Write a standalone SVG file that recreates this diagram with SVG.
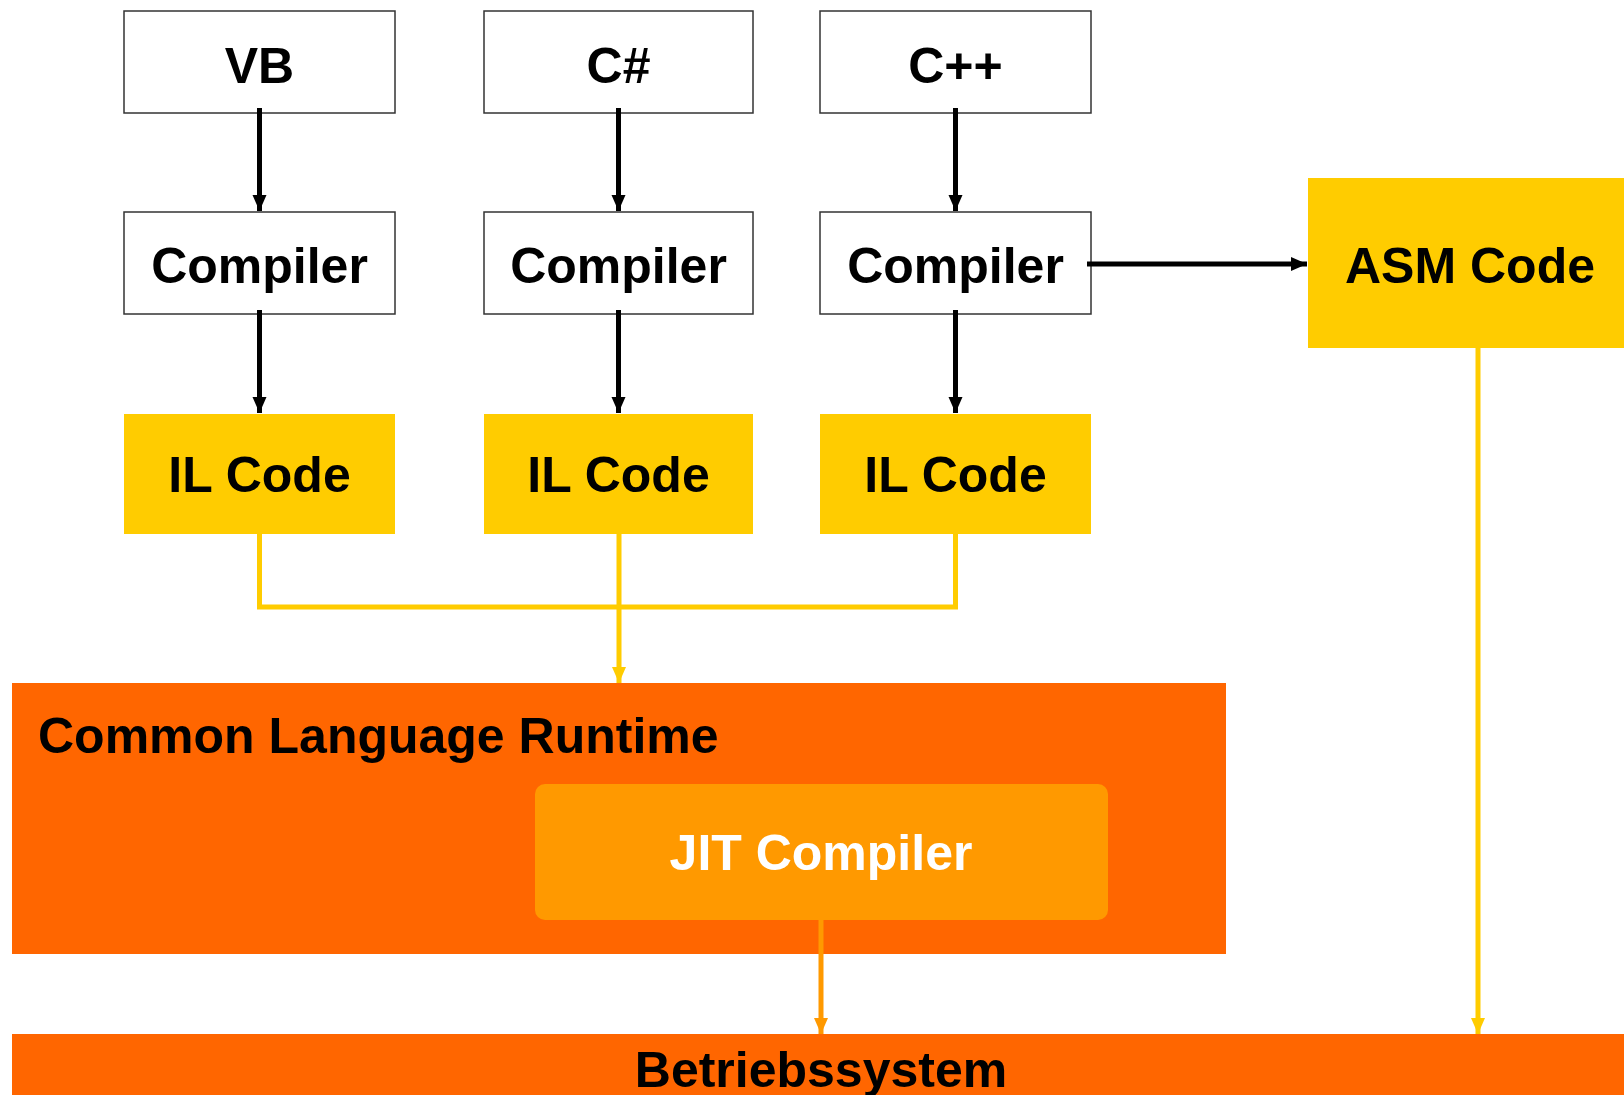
<svg xmlns="http://www.w3.org/2000/svg" width="1624" height="1095" viewBox="0 0 1624 1095">
<defs>
<style>
.wb{fill:#fff;stroke:#333;stroke-width:1.5}
.yb{fill:#FFCC00}
.ob{fill:#FF6600}
.t{font-family:"Liberation Sans",Arial,sans-serif;font-weight:bold;font-size:50px;fill:#000;text-anchor:middle}
.blk{stroke:#000;stroke-width:5;fill:none}
.yl{stroke:#FFCC00;stroke-width:5;fill:none}
.ol{stroke:#FF9900;stroke-width:5;fill:none}
</style>
<marker id="ab" markerWidth="4" markerHeight="4" refX="3.2" refY="2" orient="auto" markerUnits="strokeWidth"><path d="M0,0.6 L3.2,2 L0,3.4 Z" fill="#000"/></marker>
<marker id="ay" markerWidth="4" markerHeight="4" refX="3.2" refY="2" orient="auto" markerUnits="strokeWidth"><path d="M0,0.6 L3.2,2 L0,3.4 Z" fill="#FFCC00"/></marker>
<marker id="ao" markerWidth="4" markerHeight="4" refX="3.2" refY="2" orient="auto" markerUnits="strokeWidth"><path d="M0,0.6 L3.2,2 L0,3.4 Z" fill="#FF9900"/></marker>
</defs>
<rect width="1624" height="1095" fill="#fff"/>
<g id="clr"><rect class="ob" x="12" y="683" width="1214" height="271"/><text class="t" x="38" y="753" text-anchor="start" style="text-anchor:start">Common Language Runtime</text></g>
<g id="jit"><rect x="535" y="784" width="573" height="136" rx="10" fill="#FF9900"/><text class="t" x="821" y="870" style="fill:#fff">JIT Compiler</text></g>
<g id="os"><rect class="ob" x="12" y="1034" width="1612" height="61"/><text class="t" x="821" y="1087">Betriebssystem</text></g>
<g id="vb"><rect class="wb" x="124" y="11" width="271" height="102"/><text class="t" x="259.5" y="83">VB</text></g>
<g id="cs"><rect class="wb" x="484" y="11" width="269" height="102"/><text class="t" x="618.5" y="83">C#</text></g>
<g id="cpp"><rect class="wb" x="820" y="11" width="271" height="102"/><text class="t" x="955.5" y="83">C++</text></g>
<g id="comp1"><rect class="wb" x="124" y="212" width="271" height="102"/><text class="t" x="259.5" y="283">Compiler</text></g>
<g id="comp2"><rect class="wb" x="484" y="212" width="269" height="102"/><text class="t" x="618.5" y="283">Compiler</text></g>
<g id="comp3"><rect class="wb" x="820" y="212" width="271" height="102"/><text class="t" x="955.5" y="283">Compiler</text></g>
<g id="il1"><rect class="yb" x="124" y="414" width="271" height="120"/><text class="t" x="259.5" y="492">IL Code</text></g>
<g id="il2"><rect class="yb" x="484" y="414" width="269" height="120"/><text class="t" x="618.5" y="492">IL Code</text></g>
<g id="il3"><rect class="yb" x="820" y="414" width="271" height="120"/><text class="t" x="955.5" y="492">IL Code</text></g>
<g id="asm"><rect class="yb" x="1308" y="178" width="316" height="170"/><text class="t" x="1470" y="283">ASM Code</text></g>
<g id="connectors">
<line class="blk" x1="259.5" y1="108" x2="259.5" y2="211" marker-end="url(#ab)"/>
<line class="blk" x1="618.5" y1="108" x2="618.5" y2="211" marker-end="url(#ab)"/>
<line class="blk" x1="955.5" y1="108" x2="955.5" y2="211" marker-end="url(#ab)"/>
<line class="blk" x1="259.5" y1="310" x2="259.5" y2="413" marker-end="url(#ab)"/>
<line class="blk" x1="618.5" y1="310" x2="618.5" y2="413" marker-end="url(#ab)"/>
<line class="blk" x1="955.5" y1="310" x2="955.5" y2="413" marker-end="url(#ab)"/>
<line class="blk" x1="1087" y1="264" x2="1307" y2="264" marker-end="url(#ab)"/>
<polyline class="yl" points="259.5,534 259.5,607 955.5,607 955.5,534"/>
<line class="yl" x1="619" y1="534" x2="619" y2="683" marker-end="url(#ay)"/>
<line class="yl" x1="1478" y1="348" x2="1478" y2="1034" marker-end="url(#ay)"/>
<line class="ol" x1="821" y1="920" x2="821" y2="1034" marker-end="url(#ao)"/>
</g>
</svg>
